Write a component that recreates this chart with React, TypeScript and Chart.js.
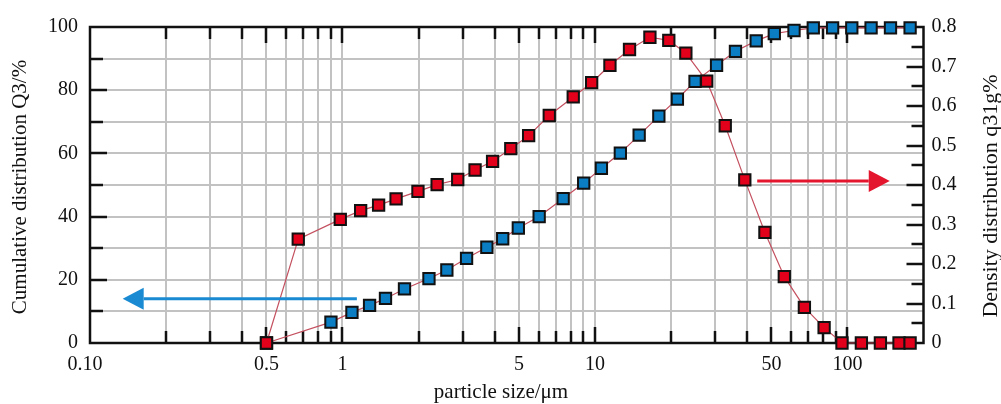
import React, { useEffect, useRef } from 'react';
import { Chart, registerables } from 'chart.js';

Chart.register(...registerables);

// ---- data ----
const densitySizes = [
  0.5, 0.668, 0.98, 1.18, 1.39, 1.63, 1.99, 2.37, 2.86, 3.35, 3.93, 4.64, 5.46, 6.59, 8.2, 9.7,
  11.46, 13.7, 16.5, 19.6, 22.9, 27.7, 32.8, 39.2, 47.1, 56.2, 67.5, 80.8, 95.1, 113.5, 135, 160, 177,
];
const densityValues = [
  0, 0.263, 0.313, 0.335, 0.349, 0.365, 0.384, 0.401, 0.414, 0.438, 0.46, 0.492, 0.525, 0.576, 0.623, 0.659,
  0.703, 0.743, 0.774, 0.766, 0.734, 0.663, 0.55, 0.413, 0.28, 0.168, 0.09, 0.039, 0, 0, 0, 0, 0,
];
const cumulativeSizes = [
  0.5, 0.9, 1.09, 1.28, 1.48, 1.76, 2.2, 2.59, 3.1, 3.73, 4.31, 4.97, 6.01, 7.48, 9.02, 10.6,
  12.6, 14.96, 17.9, 21.2, 24.9, 30.3, 36.0, 43.5, 51.3, 61.4, 73.2, 87.3, 104, 124, 148, 177,
];
const cumulativeValues = [
  0, 6.6, 9.7, 11.9, 14.1, 17.1, 20.4, 23.1, 26.8, 30.3, 33.0, 36.4, 40.0, 45.7, 50.6, 55.3,
  60.1, 65.8, 71.8, 77.2, 82.8, 87.9, 92.3, 95.6, 97.9, 98.9, 99.7, 99.7, 99.7, 99.7, 99.7, 99.7,
];

// axis ticks
const xGridTicks = [
  0.1, 0.2, 0.3, 0.4, 0.5, 0.6, 0.7, 0.8, 0.9,
  1, 2, 3, 4, 5, 6, 7, 8, 9,
  10, 20, 30, 40, 50, 60, 70, 80, 90,
  100,
];
const xTickLabels: Record<string, string> = { '0.1': '0.10  ', '0.5': '0.5', '1': '1', '5': '5', '10': '10', '50': '50', '100': '100' };
const xMajorTicks = [0.5, 1, 5, 10, 50, 100];
const leftTickValues = [10, 20, 30, 40, 50, 60, 70, 80, 90];
const leftLabelValues = [0, 20, 40, 60, 80, 100];
const rightTickValues = [0.05, 0.1, 0.15, 0.2, 0.25, 0.3, 0.35, 0.4, 0.45, 0.5, 0.55, 0.6, 0.65, 0.7, 0.75];
const rightLabelValues = [0, 0.1, 0.2, 0.3, 0.4, 0.5, 0.6, 0.7, 0.8];

// arrows: [fromX, toX, y, axis]
const blueArrow = { from: 1.14, to: 0.1347, y: 14, axis: 'y' };
const redArrow = { from: 43.9, to: 147, y: 0.41, axis: 'y1' };

const xTitle = 'particle size/\u03bcm';
const leftTitle = 'Cumulative distribution Q3/%';
const rightTitle = 'Density distribution q31g%';

const RED = '#e2001a';
const BLUE = '#0a7dc3';
const LINK = '#c4505f';
const GRID = '#c2c2c2';
const INK = '#111111';
const FONT = '"Liberation Serif", "Times New Roman", serif';

const framePlugin = {
  id: 'frame',
  beforeDatasetsDraw(chart: any) {
    const { ctx, chartArea, scales } = chart;
    const { left, right, top, bottom } = chartArea;
    ctx.save();
    ctx.strokeStyle = INK;
    ctx.lineWidth = 2.5;
    ctx.lineCap = 'butt';
    ctx.beginPath();
    for (const v of leftTickValues) {
      const y = Math.round(scales.y.getPixelForValue(v));
      const len = v % 20 === 0 ? 17 : 13;
      ctx.moveTo(left, y);
      ctx.lineTo(left + len, y);
    }
    for (const v of rightTickValues) {
      const y = Math.round(scales.y1.getPixelForValue(v));
      const major = Math.abs(v * 10 - Math.round(v * 10)) < 1e-6;
      const len = major ? 17 : 12;
      ctx.moveTo(right, y);
      ctx.lineTo(right - len, y);
    }
    for (const v of xGridTicks) {
      if (v === 0.1) continue;
      const x = Math.round(scales.x.getPixelForValue(v));
      const len = xMajorTicks.includes(v) ? 16 : 12;
      ctx.moveTo(x, bottom);
      ctx.lineTo(x, bottom - len);
      ctx.moveTo(x, top);
      ctx.lineTo(x, top + len);
    }
    ctx.stroke();
    ctx.strokeRect(left, top, right - left, bottom - top);
    ctx.restore();
  },
  afterDatasetsDraw(chart: any) {
    const { ctx, scales } = chart;
    const drawArrow = (a: any, color: string) => {
      const y = scales[a.axis].getPixelForValue(a.y);
      const x0 = scales.x.getPixelForValue(a.from);
      const x1 = scales.x.getPixelForValue(a.to);
      const dir = x1 > x0 ? 1 : -1;
      const headLen = 21;
      const headHalf = 11;
      ctx.save();
      ctx.strokeStyle = color;
      ctx.fillStyle = color;
      ctx.lineWidth = 3;
      ctx.beginPath();
      ctx.moveTo(x0, y);
      ctx.lineTo(x1 - dir * headLen, y);
      ctx.stroke();
      ctx.beginPath();
      ctx.moveTo(x1, y);
      ctx.lineTo(x1 - dir * headLen, y - headHalf);
      ctx.lineTo(x1 - dir * headLen, y + headHalf);
      ctx.closePath();
      ctx.fill();
      ctx.restore();
    };
    drawArrow(blueArrow, '#1a8bd2');
    drawArrow(redArrow, '#e3162d');
  },
  afterDraw(chart: any) {
    const { ctx } = chart;
    ctx.save();
    ctx.fillStyle = INK;
    ctx.textAlign = 'center';
    ctx.textBaseline = 'middle';
    ctx.font = `21px ${FONT}`;
    ctx.fillText(xTitle, 501, 392);
    ctx.save();
    ctx.translate(20, 187);
    ctx.rotate(-Math.PI / 2);
    ctx.fillText(leftTitle, 0, 0);
    ctx.restore();
    ctx.save();
    ctx.translate(991, 196);
    ctx.rotate(-Math.PI / 2);
    ctx.font = `22px ${FONT}`;
    ctx.fillText(rightTitle, 0, 0);
    ctx.restore();
    ctx.restore();
  },
};

export default function App() {
  const canvasRef = useRef<HTMLCanvasElement | null>(null);

  useEffect(() => {
    const canvas = canvasRef.current;
    if (!canvas) return;
    const tickFont = { family: FONT, size: 20 };
    const chart = new Chart(canvas, {
      type: 'line',
      data: {
        datasets: [
          {
            label: 'q3',
            data: densitySizes.map((s, i) => ({ x: s, y: densityValues[i] })),
            yAxisID: 'y1',
            borderColor: LINK,
            borderWidth: 1.2,
            pointStyle: 'rect',
            pointRadius: 8,
            pointBackgroundColor: RED,
            pointBorderColor: INK,
            pointBorderWidth: 2,
            tension: 0,
            clip: false,
          },
          {
            label: 'Q3',
            data: cumulativeSizes.map((s, i) => ({ x: s, y: cumulativeValues[i] })),
            yAxisID: 'y',
            borderColor: LINK,
            borderWidth: 1.2,
            pointStyle: 'rect',
            pointRadius: 8,
            pointBackgroundColor: BLUE,
            pointBorderColor: INK,
            pointBorderWidth: 2,
            tension: 0,
            clip: false,
          },
        ],
      },
      options: {
        animation: false,
        responsive: false,
        devicePixelRatio: 1,
        events: [],
        layout: { padding: { top: 27, left: 0, right: 0, bottom: 0 } },
        plugins: { legend: { display: false }, tooltip: { enabled: false } },
        scales: {
          x: {
            type: 'logarithmic',
            position: 'bottom',
            min: 0.1,
            max: 200,
            afterBuildTicks: (scale: any) => {
              scale.ticks = xGridTicks.map((v) => ({ value: v }));
            },
            afterFit: (scale: any) => {
              scale.height = 61;
            },
            ticks: {
              autoSkip: false,
              maxRotation: 0,
              padding: 10,
              color: INK,
              font: tickFont,
              callback: (value: any) => xTickLabels[String(value)] ?? '',
            },
            grid: {
              drawTicks: false,
              lineWidth: 2,
              color: (c: any) => (c.tick && c.tick.value === 0.1 ? 'rgba(0,0,0,0)' : GRID),
            },
            border: { display: false },
          },
          y: {
            type: 'linear',
            position: 'left',
            min: 0,
            max: 100,
            afterBuildTicks: (scale: any) => {
              scale.ticks = [0, ...leftTickValues, 100].map((v) => ({ value: v }));
            },
            afterFit: (scale: any) => {
              scale.width = 90;
            },
            ticks: {
              padding: 12,
              color: INK,
              font: tickFont,
              callback: (value: any) => (leftLabelValues.includes(value) ? String(value) : ''),
            },
            grid: {
              drawTicks: false,
              lineWidth: 2,
              color: (c: any) => (c.tick && (c.tick.value === 0 || c.tick.value === 100) ? 'rgba(0,0,0,0)' : GRID),
            },
            border: { display: false },
          },
          y1: {
            type: 'linear',
            position: 'right',
            min: 0,
            max: 0.8,
            afterBuildTicks: (scale: any) => {
              scale.ticks = rightLabelValues.map((v) => ({ value: v }));
            },
            afterFit: (scale: any) => {
              scale.width = 77.5;
            },
            ticks: {
              padding: 8,
              color: INK,
              font: tickFont,
              callback: (value: any) => (value === 0 ? '0' : Number(value).toFixed(1)),
            },
            grid: { display: false, drawTicks: false },
            border: { display: false },
          },
        },
      } as any,
      plugins: [framePlugin],
    });
    return () => chart.destroy();
  }, []);

  return (
    <div style={{ position: 'absolute', left: 0, top: 0, width: 1001, height: 404, background: '#fff' }}>
      <canvas ref={canvasRef} width={1001} height={404} style={{ display: 'block', width: 1001, height: 404 }} />
    </div>
  );
}
